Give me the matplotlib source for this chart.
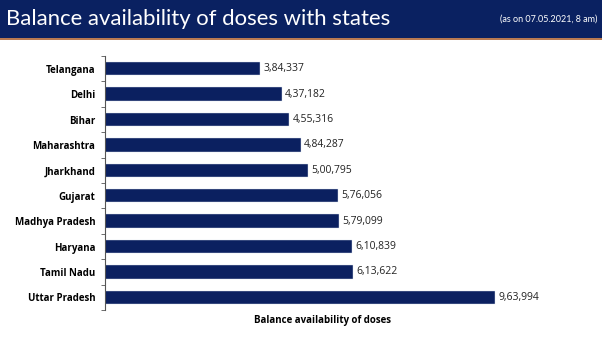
import matplotlib
matplotlib.use("Agg")
import matplotlib.pyplot as plt
from matplotlib.patches import Rectangle

states = ['Telangana', 'Delhi', 'Bihar', 'Maharashtra', 'Jharkhand', 'Gujarat',
          'Madhya Pradesh', 'Haryana', 'Tamil Nadu', 'Uttar Pradesh']
doses = [384337, 437182, 455316, 484287, 500795, 576056, 579099, 610839, 613622, 963994]
labels = ['3,84,337', '4,37,182', '4,55,316', '4,84,287', '5,00,795', '5,76,056',
          '5,79,099', '6,10,839', '6,13,622', '9,63,994']

navy = '#0b2060'

fig = plt.figure(figsize=(6.02, 3.39), dpi=100)

# header band
fig.patches.append(Rectangle((0, 1 - 38 / 339), 1, 38 / 339, transform=fig.transFigure,
                             facecolor='#0a2161', edgecolor='none'))
fig.patches.append(Rectangle((0, 1 - 39.5 / 339), 1, 1.5 / 339, transform=fig.transFigure,
                             facecolor='#b97a52', edgecolor='none'))
fig.text(6 / 602, 1 - 19 / 339, 'Balance availability of doses with states', color='white',
         fontsize=15.9, family='Lato', va='center', ha='left')
fig.text(597 / 602, 1 - 19 / 339, '(as on 07.05.2021, 8 am)', color='white',
         fontsize=6.5, family='Lato', va='center', ha='right')

ax = fig.add_axes([105 / 602, 1 - 310 / 339, 485 / 602, 254 / 339])
y = list(range(len(states)))
ax.barh(y, doses, height=0.52, color=navy, edgecolor='#dde3ee', linewidth=0.3)
ax.set_ylim(len(states) - 0.5, -0.5)
ax.set_xlim(0, 963994 * 485 / 390)

for yi, v, t in zip(y, doses, labels):
    ax.text(v + 8000, yi, t, va='center', ha='left', fontsize=7.5, family='Open Sans',
            color='#222222')

ax.set_yticks(y)
ax.set_yticklabels(states, fontsize=7, fontweight='bold', family='Open Sans')
ax.set_yticks([i - 0.5 for i in range(len(states) + 1)], minor=True)
ax.tick_params(axis='y', which='major', length=0, pad=7)
ax.tick_params(axis='y', which='minor', length=3, color='#555555')
ax.set_xticks([])
for s in ['top', 'right', 'bottom']:
    ax.spines[s].set_visible(False)
ax.spines['left'].set_color('#555555')
ax.spines['left'].set_linewidth(0.8)

fig.text(323 / 602, 1 - 321 / 339, 'Balance availability of doses', fontsize=7,
         fontweight='bold', family='Open Sans', ha='center', va='center')

fig.savefig('out.png', dpi=100)
